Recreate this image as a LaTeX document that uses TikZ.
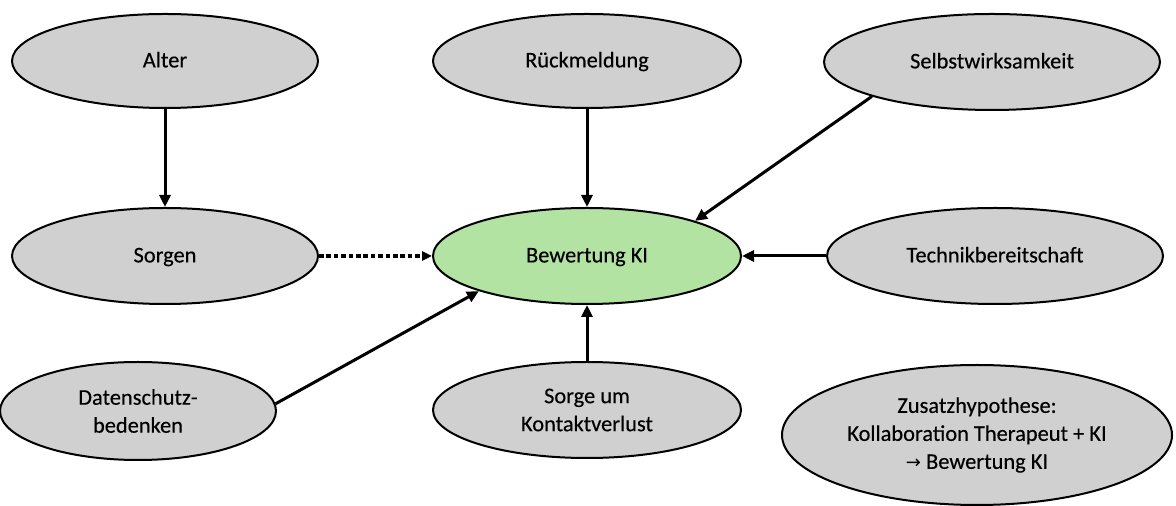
\documentclass[tikz,border=0pt]{standalone}
\usepackage{fontspec}
\setmainfont{Carlito}[FakeBold=0.3]
\newfontfamily\symfont{DejaVu Sans}
\usetikzlibrary{shapes.geometric,arrows.meta}
\definecolor{ellgray}{HTML}{D0D0D0}
\definecolor{ellgreen}{HTML}{B2E3A3}
\tikzset{
  ell/.style={ellipse, draw=black, line width=1pt, fill=ellgray, inner sep=0pt, font=\fontsize{11.2}{14}\selectfont, align=center},
  one/.style={text height=0.64em, text depth=0pt},
  conn/.style={line width=1.5pt, -{Triangle[length=6pt,width=5.5pt]}},
  dotconn/.style={line width=2pt, dash pattern=on 2.3pt off 1.4pt, -{Triangle[length=5pt,width=4.5pt]}},
}
\begin{document}
\begin{tikzpicture}[x=0.5pt,y=-0.5pt]
\useasboundingbox (0,0) rectangle (1176,506);
\node[ell, one, minimum width=153pt, minimum height=47pt] (alter) at (165,61) {Alter};
\node[ell, one, minimum width=154pt, minimum height=47pt] (rueck) at (587,61) {Rückmeldung};
\node[ell, one, minimum width=168pt, minimum height=48pt] (selbst) at (992,62) {Selbstwirksamkeit};
\node[ell, one, minimum width=153pt, minimum height=48pt] (sorgen) at (165,256) {Sorgen};
\node[ell, one, minimum width=154pt, minimum height=48pt, fill=ellgreen] (bew) at (587,256) {Bewertung KI};
\node[ell, one, minimum width=168pt, minimum height=48pt] (technik) at (995,256) {Technikbereitschaft};
\node[ell, minimum width=138pt, minimum height=49pt] (daten) at (138,411) {Datenschutz-\\bedenken};
\node[ell, minimum width=154pt, minimum height=48pt] (kontakt) at (587,410) {Sorge um\\Kontaktverlust};
\node[ell, minimum width=195pt, minimum height=70pt] (zusatz) at (977,435) {Zusatzhypothese:\\Kollaboration Therapeut + KI\\{\symfont\fontsize{9}{14}\selectfont →} Bewertung KI};
\draw[conn] (alter) -- (sorgen);
\draw[conn] (rueck) -- (bew);
\draw[conn] (selbst.196) -- (bew.18);
\draw[conn] (technik) -- (bew);
\draw[dotconn] (sorgen) -- (bew);
\draw[conn] (daten.3) -- (bew.198);
\draw[conn] (kontakt) -- (bew);
\end{tikzpicture}
\end{document}
